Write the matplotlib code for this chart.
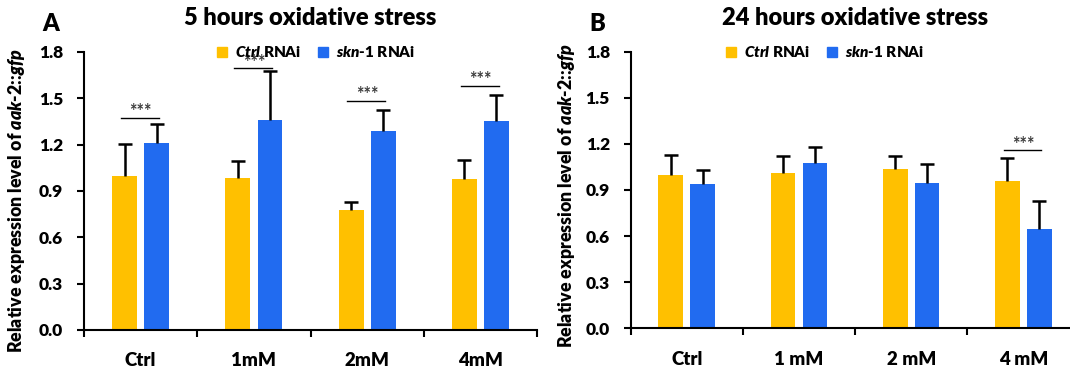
import matplotlib
matplotlib.use("Agg")
import matplotlib.pyplot as plt
from matplotlib.lines import Line2D
import numpy as np

WT = 'heavy'
plt.rcParams['font.family'] = ['Lato', 'DejaVu Sans']
plt.rcParams['font.weight'] = WT
plt.rcParams['mathtext.fontset'] = 'custom'
plt.rcParams['mathtext.rm'] = 'Lato:heavy'
plt.rcParams['mathtext.bf'] = 'Lato:heavy'
plt.rcParams['mathtext.it'] = 'Lato:heavy:italic'
try:
    plt.rcParams['mathtext.bfit'] = 'Lato:heavy:italic'
except KeyError:
    pass

# ---- data ----
cats_a = ["Ctrl", "1mM", "2mM", "4mM"]
cats_b = ["Ctrl", "1 mM", "2 mM", "4 mM"]
ctrl_a = [1.00, 0.985, 0.775, 0.975]
ctrl_a_err = [0.205, 0.11, 0.055, 0.125]
skn_a = [1.21, 1.36, 1.29, 1.35]
skn_a_err = [0.125, 0.32, 0.135, 0.17]
sig_a_idx = [0, 1, 2, 3]
sig_a_y = [1.375, 1.694, 1.485, 1.58]

ctrl_b = [1.00, 1.008, 1.037, 0.959]
ctrl_b_err = [0.125, 0.11, 0.086, 0.15]
skn_b = [0.939, 1.076, 0.946, 0.646]
skn_b_err = [0.09, 0.105, 0.125, 0.182]
sig_b_idx = [3]
sig_b_y = [1.158]

titles = ["5 hours oxidative stress", "24 hours oxidative stress"]
panel_labels = ["A", "B"]
ylabel = r"Relative expression level of $\mathbfit{aak}$-2::$\mathbfit{gfp}$"
legend_labels = [r"$\mathbfit{Ctrl}$ RNAi", r"$\mathbfit{skn}$-1 RNAi"]
yticks = [0.0, 0.3, 0.6, 0.9, 1.2, 1.5, 1.8]

YELLOW = "#FFC000"
BLUE = "#216BF0"

fig = plt.figure(figsize=(10.70, 3.69), dpi=100)
ax_a = fig.add_axes([0.0785, 0.1057, 0.4234, 0.7534])
ax_b = fig.add_axes([0.5894, 0.1103, 0.4195, 0.7496])

W = 0.22
OFF = 0.142


def draw(ax, cats, c, ce, s, se, sig_idx, sig_y, title, lab_x, lab_y, leg_x):
    x = np.arange(len(cats))
    for xs, vals, errs, col in [(x - OFF, c, ce, YELLOW), (x + OFF, s, se, BLUE)]:
        vals = np.asarray(vals)
        tops = vals + np.asarray(errs)
        ax.bar(xs, vals, W, color=col, zorder=2)
        ax.vlines(xs, vals, tops, color='black', lw=1.8, zorder=3)
        ax.plot(xs, tops, ls='none', marker='_', markersize=9.5, mew=1.8, color='black', zorder=3)
    for i, yy in zip(sig_idx, sig_y):
        ax.plot([i - 0.175, i + 0.16], [yy, yy], color='black', lw=1.0, zorder=4)
        ax.annotate("***", xy=(i, yy), xytext=(0, 0.5), textcoords='offset points',
                    ha='center', va='baseline', fontsize=13, color='#3a3a3a', fontweight='bold')
    ax.set_xlim(-0.5, len(cats) - 0.5)
    ax.set_ylim(0, 1.8)
    ax.set_yticks(yticks)
    ax.set_yticklabels([f"{v:.1f}" for v in yticks], fontsize=12.5, fontweight=WT)
    ax.set_xticks(x)
    ax.set_xticklabels(cats, fontsize=13.5, fontweight=WT)
    ax.set_xticks(np.arange(len(cats) + 1) - 0.5, minor=True)
    ax.tick_params(axis='x', which='major', length=0, pad=16)
    ax.tick_params(axis='x', which='minor', length=5, width=1.5, direction='out')
    ax.tick_params(axis='y', length=5, width=1.5, direction='out', pad=10)
    for sp in ['top', 'right']:
        ax.spines[sp].set_visible(False)
    for sp in ['left', 'bottom']:
        ax.spines[sp].set_linewidth(1.5)
    ax.set_ylabel(ylabel, fontsize=12.8, fontweight=WT)
    ax.yaxis.set_label_coords(lab_x, lab_y)
    handles = [Line2D([], [], marker='s', ls='none', color=YELLOW, markersize=7),
               Line2D([], [], marker='s', ls='none', color=BLUE, markersize=7)]
    ax.legend(handles, legend_labels, loc='center', bbox_to_anchor=(leg_x, 1.0), ncol=2,
              frameon=False, prop={'size': 11, 'weight': WT}, handletextpad=0.35, columnspacing=0.9,
              handlelength=1.0, borderaxespad=0)
    bb = ax.get_position()
    fig.text((bb.x0 + bb.x1) / 2, 0.951, title, ha='center', va='center', fontsize=17, fontweight=WT)


draw(ax_a, cats_a, ctrl_a, ctrl_a_err, skn_a, skn_a_err, sig_a_idx, sig_a_y,
     titles[0], -0.126, 0.465, 0.51)
draw(ax_b, cats_b, ctrl_b, ctrl_b_err, skn_b, skn_b_err, sig_b_idx, sig_b_y,
     titles[1], -0.12, 0.48, 0.43)

fig.text(0.0472, 0.936, panel_labels[0], ha='center', va='center', fontsize=17, fontweight=WT)
fig.text(0.558, 0.936, panel_labels[1], ha='center', va='center', fontsize=17, fontweight=WT)

fig.savefig("out.png", dpi=100)
